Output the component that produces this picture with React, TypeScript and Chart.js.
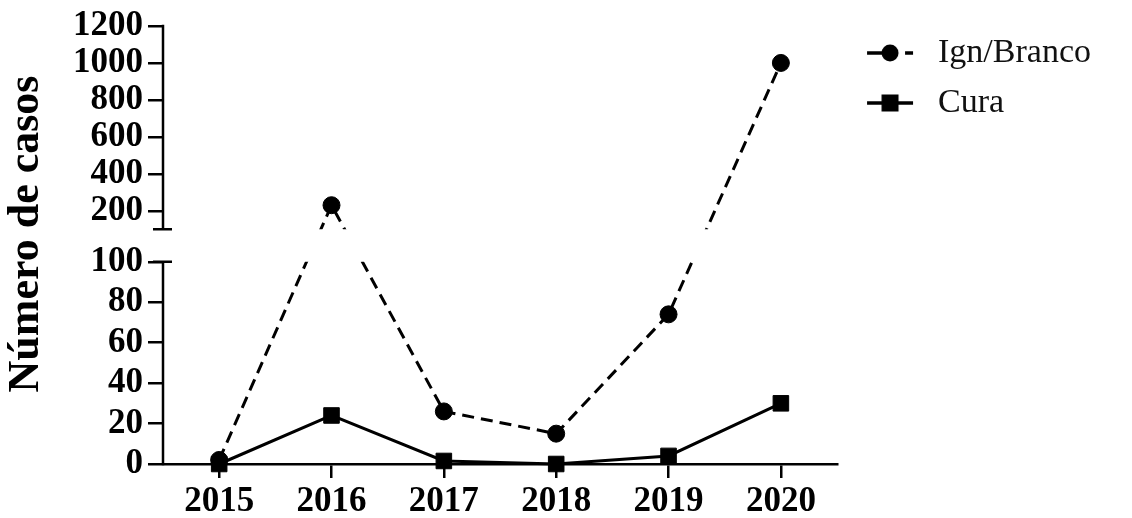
import React, { useEffect, useRef } from 'react';
import { Chart, LinearScale, registerables } from 'chart.js';

// Years on the x axis
const years = ['2015', '2016', '2017', '2018', '2019', '2020'];
// Number of cases per year
const ignBranco = [2, 230, 26, 15, 74, 1000];
const cura = [0, 24, 1.5, 0, 4, 30];
const seriesNames = ['Ign/Branco', 'Cura'];

// Broken y axis: a lower segment and an upper segment with a gap between them
const lowerTicks = [0, 20, 40, 60, 80, 100];
const upperTicks = [200, 400, 600, 800, 1000, 1200];
const lowerRange = [0, 100];
const upperRange = [100, 1200];

// Share of the plot height taken by each segment (the rest is the gap)
const LOWER_SHARE = 0.4617;
const UPPER_SHARE = 0.464;

const FONT = 'Liberation Serif';
const AXIS_W = 2.5;
const TITLE_SHIFT = -11;

class BrokenAxis extends LinearScale {
  static id = 'brokenAxis';
  static defaults = {};

  determineDataLimits() {
    this.min = lowerRange[0];
    this.max = upperRange[1];
  }

  buildTicks() {
    return [...lowerTicks, ...upperTicks].map((value) => ({ value }));
  }

  segments() {
    const h = this.bottom - this.top;
    return {
      lowerTop: this.bottom - h * LOWER_SHARE,
      upperBottom: this.top + h * UPPER_SHARE,
    };
  }

  getPixelForValue(value: number) {
    if (value === null || value === undefined || isNaN(value)) return NaN;
    const { lowerTop, upperBottom } = this.segments();
    if (value <= lowerRange[1]) {
      return this.bottom - ((value - lowerRange[0]) / (lowerRange[1] - lowerRange[0])) * (this.bottom - lowerTop);
    }
    return upperBottom - ((value - upperRange[0]) / (upperRange[1] - upperRange[0])) * (upperBottom - this.top);
  }

  getValueForPixel(pixel: number) {
    const { lowerTop, upperBottom } = this.segments();
    if (pixel >= lowerTop) {
      return lowerRange[0] + ((this.bottom - pixel) / (this.bottom - lowerTop)) * (lowerRange[1] - lowerRange[0]);
    }
    return upperRange[0] + ((upperBottom - pixel) / (upperBottom - this.top)) * (upperRange[1] - upperRange[0]);
  }

  // Title sits a little above the middle of the axis
  drawTitle() {
    const ctx = this.ctx;
    ctx.save();
    ctx.translate(0, TITLE_SHIFT);
    super.drawTitle();
    ctx.restore();
  }

  drawBorder() {
    const ctx = this.ctx;
    const x = this.right;
    const { lowerTop, upperBottom } = this.segments();
    const yTop = this.getPixelForValue(upperRange[1]);
    const yBottom = this.getPixelForValue(lowerRange[0]);
    ctx.save();
    ctx.strokeStyle = '#000';
    ctx.lineWidth = AXIS_W;
    ctx.lineCap = 'butt';
    ctx.beginPath();
    // upper segment with its bottom cap
    ctx.moveTo(x, yTop - AXIS_W / 2);
    ctx.lineTo(x, upperBottom);
    ctx.moveTo(x - 10, upperBottom);
    ctx.lineTo(x + 9, upperBottom);
    // lower segment with its top cap
    ctx.moveTo(x - 10, lowerTop);
    ctx.lineTo(x + 9, lowerTop);
    ctx.moveTo(x, lowerTop);
    ctx.lineTo(x, yBottom + AXIS_W / 2);
    ctx.stroke();
    ctx.restore();
  }
}

Chart.register(...registerables, BrokenAxis);

// Hide the part of the lines that falls inside the axis gap
const gapClip = {
  id: 'gapClip',
  beforeDatasetsDraw(chart: any) {
    const scale = chart.scales.y;
    const { lowerTop, upperBottom } = scale.segments();
    const ctx = chart.ctx;
    ctx.save();
    ctx.beginPath();
    ctx.rect(0, 0, chart.width, upperBottom);
    ctx.rect(0, lowerTop, chart.width, chart.height - lowerTop);
    ctx.clip();
  },
  afterDatasetsDraw(chart: any) {
    chart.ctx.restore();
  },
};

function makeIcon(kind: 'circle' | 'square') {
  const c = document.createElement('canvas');
  c.width = 68;
  c.height = 24;
  const g = c.getContext('2d')!;
  const cy = 12;
  const cx = 37;
  g.strokeStyle = '#000';
  g.fillStyle = '#000';
  g.lineWidth = 3.5;
  g.beginPath();
  if (kind === 'circle') {
    g.moveTo(14, cy);
    g.lineTo(cx, cy);
    g.moveTo(52, cy);
    g.lineTo(60, cy);
    g.stroke();
    g.beginPath();
    g.arc(cx, cy, 8.5, 0, Math.PI * 2);
    g.fill();
  } else {
    g.moveTo(14, cy);
    g.lineTo(60, cy);
    g.stroke();
    g.fillRect(cx - 8.5, cy - 8.5, 17, 17);
  }
  return c;
}

export default function App() {
  const ref = useRef<HTMLCanvasElement | null>(null);

  useEffect(() => {
    if (!ref.current) return;
    const icons = [makeIcon('circle'), makeIcon('square')];
    const chart = new Chart(ref.current, {
      type: 'line',
      data: {
        labels: years,
        datasets: [
          {
            label: seriesNames[0],
            data: ignBranco,
            borderColor: '#000',
            backgroundColor: '#000',
            borderWidth: 3,
            borderDash: [12, 7],
            pointStyle: 'circle',
            pointRadius: 8.5,
            pointBorderWidth: 1,
            pointBackgroundColor: '#000',
            pointBorderColor: '#000',
            tension: 0,
            clip: false,
          },
          {
            label: seriesNames[1],
            data: cura,
            borderColor: '#000',
            backgroundColor: '#000',
            borderWidth: 3,
            pointStyle: 'rect',
            pointRadius: 11,
            pointBorderWidth: 1,
            pointBackgroundColor: '#000',
            pointBorderColor: '#000',
            tension: 0,
            clip: false,
          },
        ],
      },
      options: {
        animation: false,
        responsive: true,
        maintainAspectRatio: false,
        events: [],
        layout: { padding: { top: 20, right: 31, bottom: 0, left: 0 } },
        scales: {
          x: {
            type: 'category',
            offset: true,
            grid: {
              offset: false,
              drawOnChartArea: false,
              drawTicks: true,
              tickLength: 14,
              color: '#000',
              lineWidth: AXIS_W,
            },
            border: { display: true, color: '#000', width: AXIS_W },
            ticks: {
              color: '#000',
              font: { family: FONT, size: 35, weight: 'bold' },
              padding: 3,
              maxRotation: 0,
              autoSkip: false,
            },
            afterFit: (s: any) => {
              s.height = 54;
            },
          },
          y: {
            type: 'brokenAxis' as any,
            position: 'left',
            grid: {
              drawOnChartArea: false,
              drawTicks: true,
              tickLength: 15,
              color: '#000',
              lineWidth: AXIS_W,
            },
            border: { display: true, color: '#000', width: AXIS_W },
            ticks: {
              color: '#000',
              font: { family: FONT, size: 35, weight: 'bold' },
              padding: 5,
              autoSkip: false,
              callback: (v: any) => String(v),
            },
            title: {
              display: true,
              text: 'Número de casos',
              color: '#000',
              font: { family: FONT, size: 44, weight: 'bold' },
              padding: { top: 0, bottom: 0 },
            },
            afterFit: (s: any) => {
              s.width = 163;
            },
          } as any,
        },
        plugins: {
          legend: {
            position: 'right',
            align: 'start',
            labels: {
              usePointStyle: true,
              pointStyleWidth: 68,
              padding: 16,
              color: '#111',
              font: { family: FONT, size: 34 },
              generateLabels: () =>
                seriesNames.map((name, i) => ({
                  text: name,
                  pointStyle: icons[i],
                  datasetIndex: i,
                  hidden: false,
                  fontColor: '#111',
                  lineWidth: 0,
                  strokeStyle: 'transparent',
                  fillStyle: 'transparent',
                })),
            },
          },
          tooltip: { enabled: false },
        },
      },
      plugins: [gapClip],
    });
    return () => chart.destroy();
  }, []);

  return (
    <div style={{ position: 'fixed', left: 0, top: 0, width: 1132, height: 518, background: '#fff' }}>
      <canvas ref={ref} />
    </div>
  );
}
